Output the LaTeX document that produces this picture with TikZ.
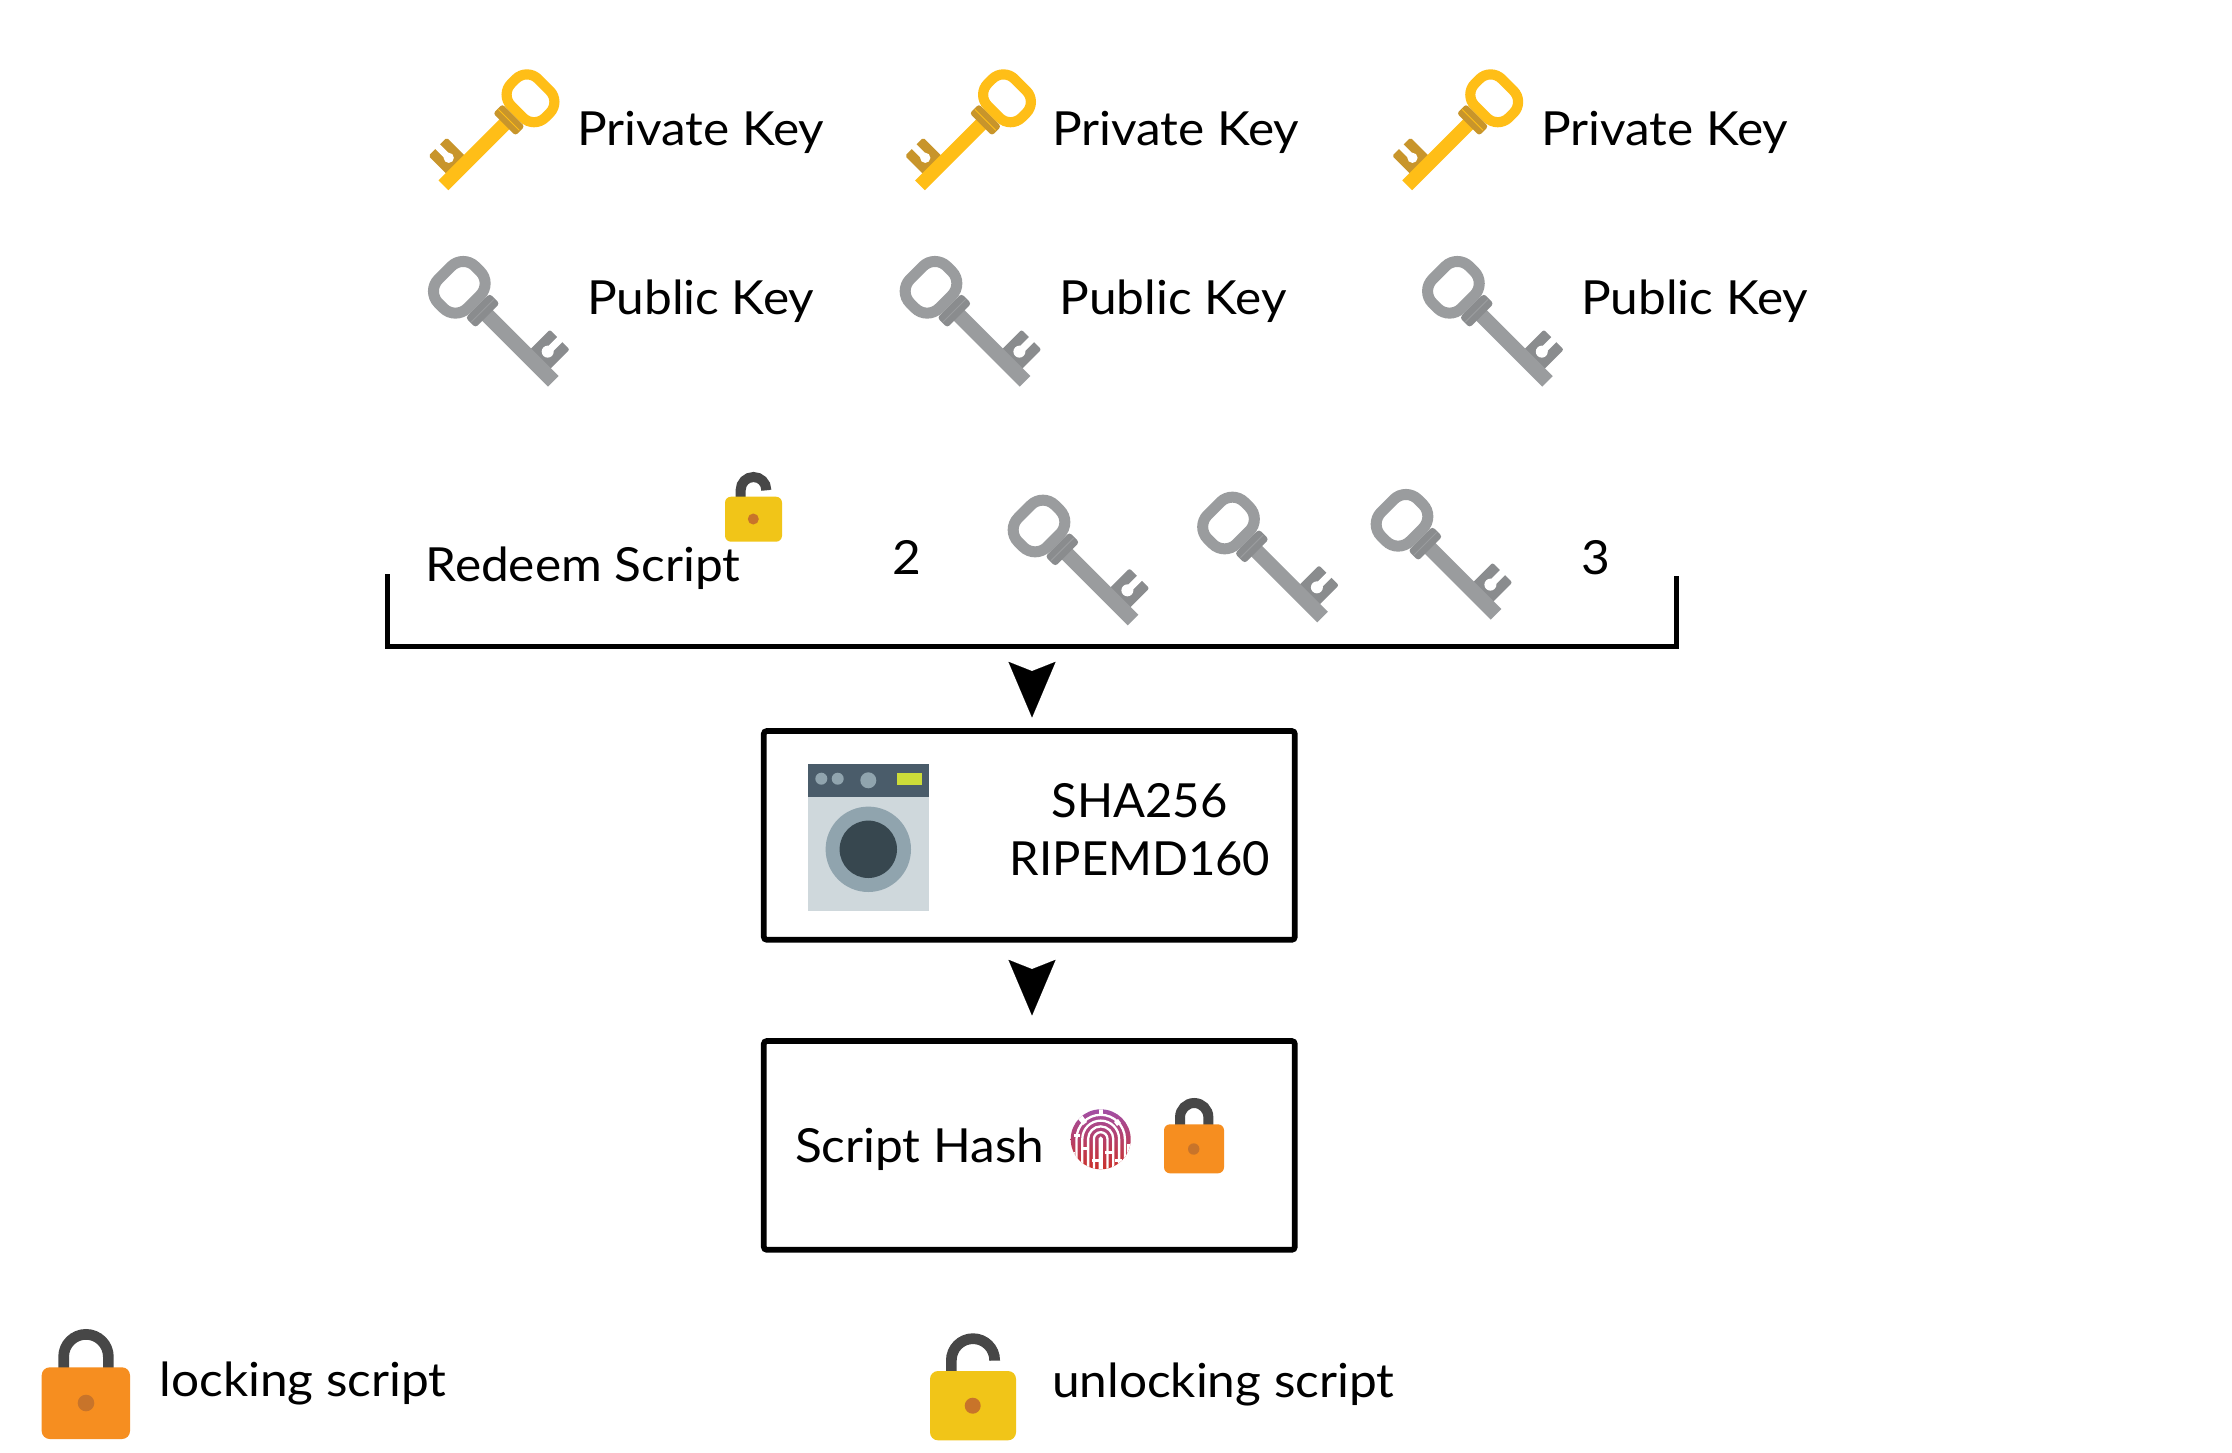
\documentclass[tikz,border=0pt]{standalone}
\usepackage{fontspec}
\setmainfont{Lato}[FakeStretch=1.055]
\newfontfamily\capsfont{Lato}[FakeStretch=1.005]
\usetikzlibrary{arrows.meta}
\definecolor{goldmain}{HTML}{FFBE17}
\definecolor{golddark}{HTML}{C8952B}
\definecolor{greymain}{HTML}{9A9C9E}
\definecolor{greydark}{HTML}{8A8C8E}
\definecolor{lockorange}{HTML}{F68E20}
\definecolor{lockyellow}{HTML}{F1C518}
\definecolor{lockhole}{HTML}{C8742A}
\definecolor{shackle}{HTML}{474747}
\definecolor{washbody}{HTML}{CFD8DC}
\definecolor{washpanel}{HTML}{4A5C6A}
\definecolor{washring}{HTML}{90A4AE}
\definecolor{washcore}{HTML}{37474F}
\definecolor{washlamp}{HTML}{CDDC39}
\definecolor{fptop}{HTML}{A14FA6}
\definecolor{fpmid}{HTML}{E22C72}
\definecolor{fpbot}{HTML}{CC3028}
\tikzset{
  txt/.style={anchor=base west,inner sep=0pt,outer sep=0pt,font=\fontsize{47}{50}\selectfont,text=black},
  ctxt/.style={txt,anchor=base,font=\capsfont\fontsize{47}{50}\selectfont},
  flowbox/.style={draw=black,line width=5.7pt,rounded corners=3pt,minimum width=531pt,minimum height=208.8pt,inner sep=0pt},
  bracketline/.style={draw=black,line width=5pt,line join=miter},
  flowtip/.style={draw=black,line width=0.1pt,-{Stealth[length=55.6pt,width=47pt,inset=9.3pt]}}
}
% cx, cy, rotate, yscale, scale, main colour, dark colour
\newcommand\keyicon[7]{%
  \begin{scope}[shift={(#1,#2)},rotate=#3,yscale=#4,scale=#5]
    \fill[#7,rounded corners=#5*2pt] (94,0) rectangle (122,34);
    \fill[white] (108,17) circle [radius=#5*6pt];
    \fill[white] (104.5,17) rectangle (111.5,35);
    \fill[#6] (30,-7.5) rectangle (133,7.5);
    \draw[#6,line width=#5*11pt,rounded corners=#5*17pt] (-20.5,-26) rectangle (20.5,26);
    \fill[#7,rounded corners=#5*3pt] (26,-17) rectangle (40,17);
    \draw[#6,line width=#5*1pt] (33,-16) -- (33,16);
  \end{scope}}
% cx, arch centre y, radius, left end y, right end y
\newcommand\shacklepath[5]{(#1-#3,#4) -- (#1-#3,#2) .. controls (#1-#3,#2-.5523*#3) and (#1-.5523*#3,#2-#3) .. (#1,#2-#3) .. controls (#1+.5523*#3,#2-#3) and (#1+#3,#2-.5523*#3) .. (#1+#3,#2) -- (#1+#3,#5)}
\begin{document}
\begin{tikzpicture}[x=1pt,y=-1pt]
\useasboundingbox (0,0) rectangle (2232,1453);
\fill[white] (0,0) rectangle (2232,1453);

% private keys
\keyicon{530.5}{98.3}{-135}{1}{0.925}{goldmain}{golddark}
\keyicon{1007}{98.3}{-135}{1}{0.925}{goldmain}{golddark}
\keyicon{1494.2}{98.3}{-135}{1}{0.925}{goldmain}{golddark}
\node[txt] (priv1) at (577,146) {Private Key};
\node[txt] (priv2) at (1052,146) {Private Key};
\node[txt] (priv3) at (1541,146) {Private Key};

% public keys
\keyicon{459.3}{287.3}{-45}{-1}{1}{greymain}{greydark}
\keyicon{931}{287.3}{-45}{-1}{1}{greymain}{greydark}
\keyicon{1453.4}{287.3}{-45}{-1}{1}{greymain}{greydark}
\node[txt] (pub1) at (587,314) {Public Key};
\node[txt] (pub2) at (1059.5,314) {Public Key};
\node[txt] (pub3) at (1581,314) {Public Key};

% redeem script line
\node[txt] (redeem) at (425.5,581) {Redeem Script};
\node[txt] (two) at (892,574) {2};
\node[txt] (three) at (1581,574) {3};
\keyicon{1039}{526}{-45}{-1}{1}{greymain}{greydark}
\keyicon{1228.5}{523}{-45}{-1}{1}{greymain}{greydark}
\keyicon{1402}{520.3}{-45}{-1}{1}{greymain}{greydark}
% small open lock
\draw[shackle,line width=10pt] \shacklepath{753.5}{489.8}{12.8}{499}{489.3};
\fill[lockyellow,rounded corners=6pt] (725,496.7) rectangle (782,541.7);
\fill[lockhole] (753.3,519) circle [radius=5.5pt];

% bracket
\coordinate (brL) at (387.5,574);
\coordinate (brR) at (1676.5,576);
\coordinate (brB) at (1032,646.5);
\draw[bracketline] (brL) |- (brB) -| (brR);

% boxes
\node[flowbox] (box1) at (1029.3,835.4) {};
\node[flowbox] (box2) at (1029.3,1145.4) {};
\draw[flowtip,shorten <=26pt,shorten >=10.7pt] (brB) -- ([xshift=2.7pt]box1.north);
\draw[flowtip,shorten <=27pt,shorten >=22.7pt] ([xshift=2.7pt]box1.south) -- ([xshift=2.7pt]box2.north);

% washing machine
\fill[washbody] (808,764) rectangle (929,910.7);
\fill[washpanel] (808,764) rectangle (929,796.7);
\fill[washring] (868.3,849.3) circle [radius=42.7pt];
\fill[washcore] (868.3,849.3) circle [radius=28.7pt];
\fill[washring] (821.3,778.7) circle [radius=6pt];
\fill[washring] (837.7,778.7) circle [radius=6pt];
\fill[washring] (868.3,780.3) circle [radius=8pt];
\fill[washlamp] (897,772.7) rectangle (921.7,784.7);
\node[ctxt] (sha) at (1139.5,817) {SHA256};
\node[ctxt] (ripemd) at (1140,875) {RIPEMD160};

% script hash
\node[txt] (hash) at (795,1162.5) {Script Hash};
% fingerprint
\begin{scope}
  \clip (1100.7,1139.3) circle [radius=30pt];
  \shade[top color=fptop,middle color=fpmid,bottom color=fpbot] (1070,1109) rectangle (1131,1170);
  \foreach \g in {1.0,6.8,12.6,18.4,24.2}{
    \draw[white,line width=2.3pt] \shacklepath{1100.7}{1139}{\g}{1175}{1175};
  }
  % breaks in the ridges
  \fill[white] (1099,1105) rectangle (1103,1116);
  \fill[white] (1068,1152) rectangle (1075,1172);
  \fill[white] (1127,1144) rectangle (1134,1172);
  \fill[white] (1078,1119) -- (1082,1115) -- (1087,1122) -- (1083,1125) -- cycle;
  \fill[white] (1114,1122) -- (1118,1119) -- (1121,1123) -- (1117,1126) -- cycle;
  \fill[white] (1081,1147) rectangle (1089,1149.5);
  \fill[white] (1105,1151) rectangle (1112,1153.5);
  \fill[white] (1092,1159) rectangle (1099,1161.5);
  \fill[white] (1115,1159) rectangle (1122,1161.5);
  \fill[white] (1074,1134) rectangle (1080,1136.5);
\end{scope}
% closed lock in box
\draw[shackle,line width=10pt] \shacklepath{1194.2}{1117.15}{14.15}{1126}{1126};
\fill[lockorange,rounded corners=6pt] (1164,1124.3) rectangle (1224,1173.3);
\fill[lockhole] (1193.7,1149) circle [radius=5.7pt];

% legend
\draw[shackle,line width=10.7pt] \shacklepath{86}{1356.7}{22.35}{1369}{1369};
\fill[lockorange,rounded corners=8pt] (41.7,1367.3) rectangle (130,1439);
\fill[lockhole] (86,1403) circle [radius=8.3pt];
\node[txt] (locking) at (159.5,1396) {locking script};

\draw[shackle,line width=10.7pt] \shacklepath{973}{1360.3}{21.65}{1373}{1360.7};
\fill[lockyellow,rounded corners=8pt] (930,1371) rectangle (1016,1440.3);
\fill[lockhole] (972.7,1405.7) circle [radius=8pt];
\node[txt] (unlocking) at (1052,1397.5) {unlocking script};
\end{tikzpicture}
\end{document}
